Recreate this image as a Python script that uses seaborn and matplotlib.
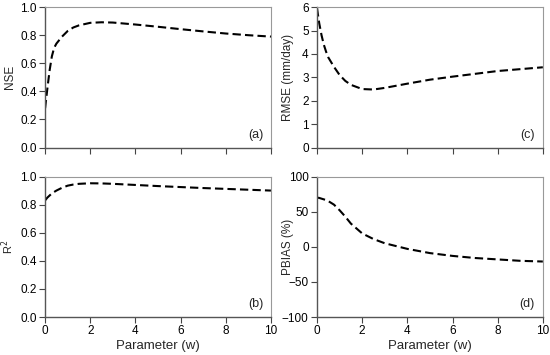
import numpy as np
import pandas as pd
import matplotlib
matplotlib.use("Agg")
import matplotlib.pyplot as plt
import seaborn as sns

# Values
w = [0, 0.1, 0.2, 0.3, 0.4, 0.5, 0.75, 1, 1.25, 1.5, 2, 2.5, 3, 4, 5, 6, 7, 8, 9, 10]
nse = [0.28, 0.42, 0.55, 0.65, 0.71, 0.74, 0.79, 0.83, 0.855, 0.87, 0.888, 0.892,
       0.89, 0.876, 0.86, 0.843, 0.827, 0.812, 0.80, 0.79]
r2 = [0.83, 0.85, 0.865, 0.88, 0.89, 0.90, 0.92, 0.935, 0.943, 0.948, 0.952, 0.951,
      0.948, 0.94, 0.932, 0.925, 0.918, 0.912, 0.906, 0.90]
rmse = [5.95, 5.3, 4.8, 4.4, 4.1, 3.85, 3.45, 3.1, 2.85, 2.68, 2.5, 2.48, 2.55,
        2.73, 2.9, 3.03, 3.15, 3.27, 3.35, 3.43]
pbias = [70, 69.5, 68.5, 67.5, 66.5, 65, 60, 52, 43, 33, 19, 11, 5, -3, -9, -13,
         -16, -18, -20, -21]

df = pd.DataFrame({"w": w, "NSE": nse, "R2": r2, "RMSE": rmse, "PBIAS": pbias})

sns.set_style("ticks")
plt.rcParams["font.family"] = ["Liberation Sans", "DejaVu Sans"]

fig, axes = plt.subplots(2, 2, figsize=(5.5, 3.55), dpi=100, sharex=True)
fig.subplots_adjust(left=0.082, right=0.987, top=0.980, bottom=0.107,
                    wspace=0.204, hspace=0.206)

panels = [
    (axes[0, 0], "NSE", "NSE", (0, 1), np.arange(0, 1.01, 0.2), "{:.1f}", "(a)", -0.13, 8.5),
    (axes[1, 0], "R2", "R$^2$", (0, 1), np.arange(0, 1.01, 0.2), "{:.1f}", "(b)", -0.13, 8),
    (axes[0, 1], "RMSE", "RMSE (mm/day)", (0, 6), np.arange(0, 7, 1), "{:.0f}", "(c)", -0.10, 8.5),
    (axes[1, 1], "PBIAS", "PBIAS (%)", (-100, 100), np.arange(-100, 101, 50), "{:.0f}", "(d)", -0.10, 8.5),
]

for ax, col, label, ylim, yticks, fmt, tag, lx, lsize in panels:
    sns.lineplot(data=df, x="w", y=col, ax=ax, color="black", lw=1.5,
                 dashes=False, linestyle=(0, (4, 2)))
    ax.set_xlim(0, 10)
    ax.set_ylim(*ylim)
    ax.set_yticks(yticks)
    ax.set_yticklabels([fmt.format(t).replace("-", "\u2212") for t in yticks])
    ax.set_xticks(range(0, 11, 2))
    ax.set_ylabel(label, fontsize=lsize)
    ax.yaxis.set_label_coords(lx, 0.5)
    ax.set_xlabel("")
    ax.tick_params(axis="both", labelsize=8.5, length=4, width=0.8,
                   colors="#444444", labelcolor="black", pad=2)
    for s in ["left", "bottom"]:
        ax.spines[s].set_color("#555555")
        ax.spines[s].set_linewidth(1.0)
    for s in ["top", "right"]:
        ax.spines[s].set_color("#999999")
        ax.spines[s].set_linewidth(0.8)
    ax.text(0.965, 0.09, tag, transform=ax.transAxes, ha="right", va="center",
            fontsize=9)

for ax in axes[1]:
    ax.set_xlabel("Parameter (w)", fontsize=9.5, labelpad=2)
for ax in axes[0]:
    ax.tick_params(labelbottom=False)

fig.savefig("out.png", dpi=100)
